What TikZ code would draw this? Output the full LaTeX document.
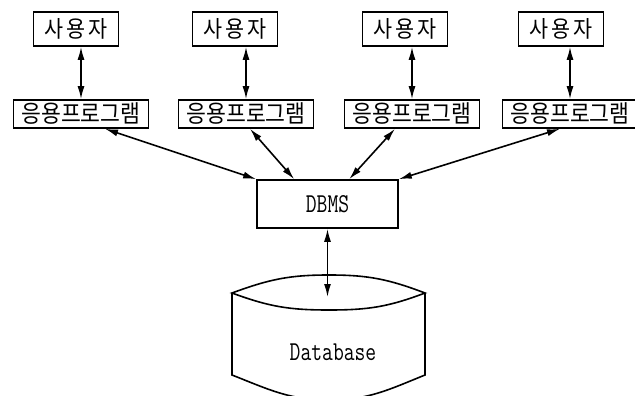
\documentclass[tikz,border=0pt]{standalone}
\usepackage{fontspec}
\newfontfamily\hangul[FakeStretch=0.9]{Noto Sans CJK KR}
\newfontfamily\hangulwide[FakeStretch=0.9, LetterSpace=12]{Noto Sans CJK KR}
\usetikzlibrary{arrows.meta}

\newcommand{\tallmono}[1]{\scalebox{1}[1.3]{\ttfamily\fontsize{21}{21}\selectfont #1}}

\tikzset{
  box/.style={draw, line width=1.6pt, inner sep=0pt},
  user/.style={box, minimum width=85pt, minimum height=34pt,
    font=\hangulwide\fontsize{23}{23}\selectfont},
  app/.style={box, minimum width=135pt, minimum height=28pt,
    font=\hangul\fontsize{24}{24}\selectfont},
  engine/.style={box, minimum width=141pt, minimum height=48pt},
  link/.style={line width=1.6pt,
    {Latex[length=13pt,width=7pt]}-{Latex[length=13pt,width=7pt]}},
}

\begin{document}
\begin{tikzpicture}[x=1pt, y=-1pt]
\useasboundingbox (0,0) rectangle (635,396);

% users on top, one program under each
\foreach \i/\ux/\ax in {1/76/81, 2/235/246, 3/405/412, 4/561/570} {
  \node[user] (user\i) at (\ux, 29) {사용자};
  \node[app] (app\i) at (\ax, 114) {응용프로그램};
  \draw[link] (app\i.north) -- (app\i.north |- user\i.south);
}

%%%%%%%%%%%%%%%%%%%%%%%%%%%%%%%%%%%%%%%%

\node[engine] (dbms) at (327.5, 204) {\tallmono{DBMS}};
\draw[link] ([xshift=24pt]app1.south) -- (dbms.north west);
\draw[link] ([xshift=4pt]app2.south) -- ([xshift=38pt]dbms.north west);
\draw[link] ([xshift=-17pt]app3.south) -- ([xshift=93pt]dbms.north west);
\draw[link] ([xshift=-10pt]app4.south) -- (dbms.north east);

%%%%%%%%%%%%%%%%%%%%%%%%%%%%%%%%%%%%%%%%

\coordinate (dbtop) at (329, 297);
\draw[link] (dbms.south) -- (dbms.south |- dbtop);

\draw[line width=1.6pt]
     (232, 293)
  .. controls (270, 279) and (290, 275) .. (329, 275)
  .. controls (368, 275) and (388, 279) .. (425, 293)
  .. controls (388, 307) and (368, 310) .. (329, 310)
  .. controls (290, 310) and (270, 307) .. cycle;
\draw[line width=1.6pt]
     (232, 293)
  -- (232, 375)
  .. controls (270, 390) and (290, 400) .. (329, 400)
  .. controls (368, 400) and (388, 390) .. (425, 375)
  -- (425, 293);
\node (db) at (333, 352) {\tallmono{Database}};

\end{tikzpicture}
\end{document}
